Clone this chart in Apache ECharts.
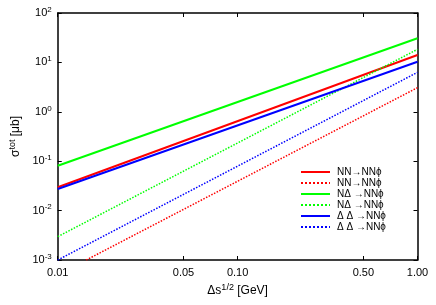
<!DOCTYPE html>
<html><head><meta charset="utf-8">
<script src="https://cdn.jsdelivr.net/npm/echarts@6/dist/echarts.min.js"></script>
<style>html,body{margin:0;padding:0;background:#fff}#c{width:436px;height:305px}</style>
</head><body><div id="c"></div>
<script>
// Data (x in GeV, sigma in microbarn)
const xTicks = [0.01, 0.05, 0.10, 0.50, 1.00];
const seriesNames = ['NN→NNϕ', 'NN→NNϕ', 'NΔ →NNϕ', 'NΔ →NNϕ', 'Δ Δ →NNϕ', 'Δ Δ →NNϕ'];
const nnSolidX = [0.01, 1.0];
const nnSolidY = [0.0297, 14.1];
const nnDottedX = [0.0144, 1.0];
const nnDottedY = [0.001, 3.08];
const ndSolidX = [0.01, 1.0];
const ndSolidY = [0.081, 30.8];
const ndDottedX = [0.01, 1.0];
const ndDottedY = [0.00297, 18.4];
const ddSolidX = [0.01, 1.0];
const ddSolidY = [0.0274, 10.3];
const ddDottedX = [0.01, 1.0];
const ddDottedY = [0.0010, 6.3];

const FONT = 'Liberation Sans, Arial, sans-serif';
function pairs(xs, ys) { return xs.map((x, i) => [x, ys[i]]); }
const defs = [
  [nnSolidX, nnSolidY, '#ff0000', 'solid', 2],
  [nnDottedX, nnDottedY, '#ff0000', 'dotted', 1.5],
  [ndSolidX, ndSolidY, '#00ff00', 'solid', 2],
  [ndDottedX, ndDottedY, '#00ff00', 'dotted', 1.5],
  [ddSolidX, ddSolidY, '#0000ff', 'solid', 2],
  [ddDottedX, ddDottedY, '#0000ff', 'dotted', 1.5]
];
const ids = defs.map((d, i) => 's' + i);
const series = defs.map((d, i) => ({
  name: ids[i], type: 'line', data: pairs(d[0], d[1]), symbol: 'none', clip: true,
  lineStyle: { color: d[2], type: d[3], width: d[4] }, itemStyle: { color: d[2] },
  animation: false
}));

const chart = echarts.init(document.getElementById('c'));
const axisLine = { show: true, lineStyle: { color: '#000', width: 1.5 } };
chart.setOption({
  animation: false,
  grid: { left: 49, top: 13, right: 18.5, bottom: 45, containLabel: false },
  legend: {
    orient: 'vertical', left: 295, top: 162, itemWidth: 29, itemHeight: 12, itemGap: 1,
    data: ids,
    itemStyle: { opacity: 0 },
    formatter: n => seriesNames[ids.indexOf(n)],
    textStyle: { fontFamily: FONT, fontSize: 10, color: '#000', padding: [0, 0, 0, 2] }
  },
  xAxis: [{
    type: 'log', min: 0.01, max: 1, logBase: 10,
    name: 'Δs{sup|1/2} [GeV]', nameLocation: 'middle', nameGap: 22,
    nameTextStyle: { fontFamily: FONT, fontSize: 12, color: '#000',
      rich: { sup: { fontFamily: FONT, fontSize: 9, verticalAlign: 'top', padding: [0, 0, 7, 0] } } },
    axisLine: axisLine,
    axisTick: { show: true, inside: true, length: 4, customValues: xTicks, lineStyle: { color: '#000', width: 1 } },
    axisLabel: { customValues: xTicks, formatter: v => v.toFixed(2), fontFamily: FONT, fontSize: 11, color: '#000', margin: 7 },
    splitLine: { show: false }, minorTick: { show: false }
  }, {
    type: 'log', min: 0.01, max: 1, position: 'top', axisLine: axisLine,
    axisTick: { show: true, inside: true, length: 4, customValues: xTicks, lineStyle: { color: '#000' } },
    axisLabel: { show: false }, splitLine: { show: false }
  }],
  yAxis: [{
    type: 'log', min: 0.001, max: 100, logBase: 10,
    name: 'σ{sup|tot} [μb]', nameLocation: 'middle', nameGap: 33, nameRotate: 90,
    nameTextStyle: { fontFamily: FONT, fontSize: 12, color: '#000',
      rich: { sup: { fontFamily: FONT, fontSize: 9, padding: [0, 0, 6, 0] } } },
    axisLine: axisLine,
    axisTick: { show: true, inside: true, length: 4, lineStyle: { color: '#000' } },
    axisLabel: {
      formatter: v => '10{sup|' + Math.round(Math.log10(v)) + '}',
      fontFamily: FONT, fontSize: 11, color: '#000', margin: 6,
      rich: { sup: { fontFamily: FONT, fontSize: 8, padding: [0, 0, 7, 0], color: '#000' } }
    },
    splitLine: { show: false }
  }, {
    type: 'log', min: 0.001, max: 100, position: 'right', axisLine: axisLine,
    axisTick: { show: true, inside: true, length: 4, lineStyle: { color: '#000' } },
    axisLabel: { show: false }, splitLine: { show: false }
  }],
  series: series
});
</script></body></html>
